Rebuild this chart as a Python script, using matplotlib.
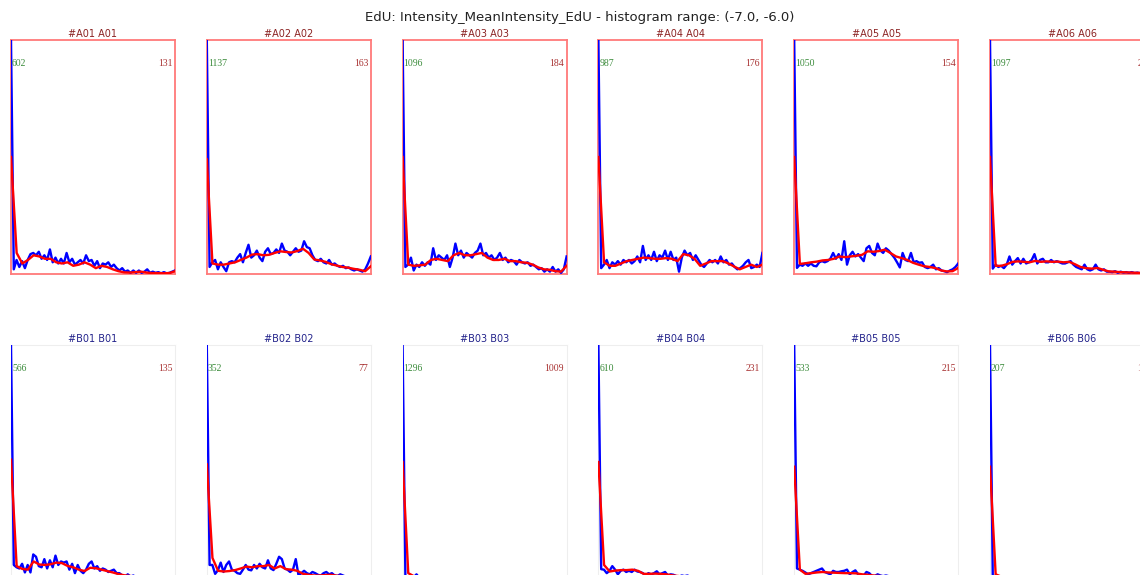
import numpy as np
import matplotlib
matplotlib.use("Agg")
import matplotlib.pyplot as plt

title = "EdU: Intensity_MeanIntensity_EdU - histogram range: (-7.0, -6.0)"

row_a_wells = ["A01", "A02", "A03", "A04", "A05", "A06"]
row_b_wells = ["B01", "B02", "B03", "B04", "B05", "B06"]

# numbers printed in each panel (left: green, right: dark red)
row_a_left = [602, 1137, 1096, 987, 1050, 1097]
row_a_right = [131, 163, 184, 176, 154, 212]
row_b_left = [566, 352, 1296, 610, 533, 207]
row_b_right = [135, 77, 1009, 231, 215, 148]

# histogram (blue) and smoothed (red) curves, in percent of the panel's peak bin
a01_blue = [100, 2, 6, 3, 5.5, 2.5, 6, 8.5, 9, 8,
            9.5, 6.5, 8, 6, 10.5, 5, 7, 4.5, 6.5, 4.5,
            9, 5, 6.5, 4, 5, 6, 4.5, 8, 5.5, 6,
            3.5, 5.5, 2.5, 4.5, 4, 5, 3, 4, 2.5, 1.5,
            2.5, 1, 1.5, 0.5, 1.5, 0.5, 1.5, 0.5, 1, 2,
            0.5, 1, 0.5, 0.8, 0.3, 0.8, 0.3, 0.5, 1, 1.5]
a01_red = [50, 9, 4.5, 6, 8, 7.5, 6.5, 6.5, 5, 4.5,
           5, 3.5, 4, 5, 4, 2.5, 3.5, 3, 2, 1.2,
           0.7, 0.6, 0.8, 1, 0.6, 0.4, 0.4, 0.3, 0.4, 1.2]

a02_blue = [100, 3, 5, 6, 2, 5, 3, 1.2, 5, 5.5,
            5, 7, 8.5, 5, 9, 12.5, 7, 8, 10, 7,
            5.5, 9.5, 11, 8.5, 9, 10.5, 9, 13, 10, 9.5,
            8, 9.5, 11, 9.5, 10, 14, 11.5, 11, 8, 6,
            5.5, 6.5, 5, 4.5, 6, 4, 4.5, 3.5, 3, 3.5,
            2.5, 2.8, 2, 1.5, 2, 1.5, 1, 2, 4.5, 7.5]
a02_red = [49, 4.5, 4, 4, 4.5, 5, 6, 7, 8.3, 8.5,
           8, 8.2, 9, 9.7, 9.4, 9.2, 9.8, 10.8, 9, 6.2,
           5.8, 5.2, 4.2, 3.6, 3, 2.7, 2.2, 1.8, 1.2, 3.3]

a03_blue = [100, 3, 4, 7, 1.5, 4, 3, 5, 3.5, 5,
            4, 11, 6, 8, 7, 6, 8, 3, 7, 13,
            8, 10, 7, 9, 8, 7, 9, 10, 13, 8,
            9, 7, 8, 6, 7, 9, 6, 7, 5, 6,
            5.5, 4, 6, 5, 4.5, 5, 3.5, 4, 3, 2,
            2.5, 1, 2, 1, 3, 1, 2, 0.5, 2, 7.5]
a03_red = [50, 4, 3.5, 3.7, 4, 6, 6.5, 6, 5.5, 8,
           9, 8, 8, 8.5, 9, 7, 6, 6, 6.5, 5.5,
           5.5, 5, 4.8, 4, 2.8, 2, 1.8, 1.2, 1, 3.5]

a04_blue = [100, 2.5, 4, 6, 2.5, 5, 4, 5.5, 4, 6,
            5, 6, 4.5, 5.5, 7.5, 5, 12, 6, 8, 6,
            9.5, 5.5, 8, 7, 10, 6, 9.5, 6, 7, 1,
            7, 10, 8, 9, 6, 8, 6, 4, 3, 4.5,
            6, 5, 6, 4.5, 7.5, 5, 6, 4, 4.5, 3,
            2, 2.5, 3.5, 5, 6, 2.5, 3, 4, 3, 9]
a04_red = [50, 5, 3.5, 3.5, 4.5, 5.5, 6, 6.5, 7, 6.8,
           6.5, 6.5, 6.8, 6.5, 5.5, 8.5, 8, 6.5, 3.5, 4.5,
           5.5, 5.5, 5.5, 4.5, 3.2, 2, 3, 4, 3, 4]

a05_blue = [100, 2.6, 4, 3.5, 4.5, 3.5, 4.5, 3.5, 3.3, 5,
            5.5, 5, 5.5, 6.5, 9, 6.5, 8.5, 6, 14, 4,
            8, 9.5, 7.5, 8.5, 7, 5.5, 11, 12, 9, 8,
            13, 10, 9, 11, 10, 8.5, 7, 5, 2.8, 9,
            6, 5.5, 9, 5, 5.5, 4.8, 5, 3, 2.5, 3,
            4, 2, 2.5, 1.5, 1.2, 0.8, 1.5, 2, 3, 4.5]
a05_red = [50, 4.3, 4.6, 5, 5.3, 5.8, 6, 6.5, 7.5, 7.2,
           7.5, 7.8, 8.2, 9.7, 9.5, 9.8, 10.4, 9, 7.5, 6.8,
           6, 4.8, 4, 3.3, 3, 2.5, 1.5, 1.1, 1.2, 2.6]

a06_blue = [100, 2.3, 4, 3, 3.5, 2.5, 4, 7.5, 4, 5.5,
            6.8, 4.5, 6.5, 4.5, 5, 6, 8.5, 4.5, 6, 6.5,
            5, 5, 6, 5, 5.5, 5, 4.5, 4.5, 5, 5.5,
            4, 3, 2.5, 2, 4, 2, 1.5, 2, 4, 2,
            1.5, 2, 1, 1, 0.8, 1.2, 0.5, 1, 0.6, 0.8,
            0.5, 0.8, 0.4, 0.6, 0.3, 0.5, 0.3, 0.6, 0.3, 0.5]
a06_red = [50, 3.5, 3.5, 4.2, 5.2, 5.4, 5.2, 5, 5.6, 5.2,
           5.4, 5.2, 5.3, 5, 5.2, 4.2, 3, 2.5, 2.3, 2.6,
           1.8, 1.1, 1, 0.8, 0.7, 0.6, 0.5, 0.5, 0.5, 0.5]

b01_blue = [100, 6, 5, 4.5, 6.5, 2.8, 6, 2.8, 10.5, 9.5,
            5.5, 5, 8.5, 4.5, 8, 5, 10, 6, 7.5, 7,
            7.5, 4, 6.5, 2.5, 6, 3.5, 2.5, 4, 6.5, 7.5,
            4.5, 5.5, 3.5, 4.5, 4, 3, 3.5, 4, 2.5, 2.5,
            1.5, 1, 2, 1, 1.5, 0.8, 1, 0.5, 1, 0.5,
            0.8, 0.5, 0.6, 0.4, 0.5, 0.3, 0.5, 0.3, 0.4, 0.6]
b01_red = [51, 5.5, 4.3, 4, 7.5, 6.2, 6, 6.3, 7, 6.8,
           5.6, 5, 4, 3.4, 4.8, 4.6, 4, 3.4, 2.8, 2.1,
           1.6, 1.3, 1.1, 1, 0.9, 0.8, 0.7, 0.6, 0.5, 0.5]

b02_blue = [100, 6, 6, 2.2, 3.7, 7, 3, 6, 7.5, 4,
            3.5, 2.5, 2.2, 4, 6, 4, 3.7, 6, 4.5, 6.5,
            5, 4.5, 8, 4.5, 3.8, 6.5, 9.5, 8.5, 4.5, 4,
            3, 4, 8.5, 1.5, 2.5, 3.5, 2.5, 2, 3, 2.5,
            1.8, 1.4, 2.5, 3, 2, 2.5, 1.5, 1.3, 2, 1.5,
            1, 0.8, 1.2, 0.6, 0.8, 0.5, 0.7, 0.4, 0.6, 0.8]
b02_red = [49, 9, 3.5, 3.2, 3.4, 3.8, 4.5, 5.3, 5, 5.5,
           5.5, 6, 4.5, 5.5, 4.2, 4, 3.5, 2.2, 1.8, 1.5,
           1.5, 1.7, 1.8, 1.4, 1.2, 0.9, 0.8, 0.7, 0.6, 0.6]

b03_blue = [100, 1.2, 0.6, 1, 0.8, 2, 0.5, 0.8, 0.4, 0.6,
            0.5, 0.7, 0.3, 0.5, 0.6, 0.4, 0.3, 0.5, 0.4, 0.3,
            0.5, 0.3, 0.4, 0.2, 0.4, 0.3, 0.2, 0.4, 0.3, 0.2,
            0.3, 0.2, 0.4, 0.2, 0.3, 0.2, 0.3, 0.1, 0.3, 0.2,
            0.2, 0.3, 0.1, 0.2, 0.3, 0.1, 0.2, 0.1, 0.2, 0.1,
            0.2, 0.1, 0.2, 0.1, 0.1, 0.2, 0.1, 0.1, 0.2, 0.3]
b03_red = [50, 2.5, 1.2, 0.9, 0.8, 0.7, 0.6, 0.5, 0.5, 0.4,
           0.4, 0.4, 0.3, 0.3, 0.3, 0.3, 0.3, 0.2, 0.2, 0.2,
           0.2, 0.2, 0.2, 0.2, 0.2, 0.2, 0.2, 0.2, 0.2, 0.2]

b04_blue = [100, 4.2, 4, 2.5, 3.5, 5.5, 4, 2, 3.5, 4,
            3, 3.5, 3, 4, 3.2, 3, 2.5, 1.5, 2.5, 2,
            2.5, 3.3, 2, 2.5, 3, 1.5, 2, 1.8, 1.2, 1,
            1.5, 1.2, 1.5, 1, 0.8, 1.2, 0.7, 1, 0.6, 0.8,
            0.5, 0.9, 0.6, 0.7, 0.5, 0.8, 0.4, 0.6, 0.5, 0.7,
            0.4, 0.5, 0.3, 0.6, 0.4, 0.5, 0.3, 0.4, 0.6, 1.2]
b04_red = [50, 6, 3.2, 3.6, 3.8, 3.8, 4, 3.5, 2.2, 2.2,
           2.3, 2.2, 2, 1.6, 1.3, 1.1, 1, 0.9, 0.9, 0.8,
           0.8, 0.7, 0.7, 0.6, 0.6, 0.5, 0.5, 0.5, 0.5, 0.6]

b05_blue = [100, 4.5, 4, 3.5, 2.8, 2, 2.5, 3, 3.5, 4,
            4.5, 3, 2.5, 2, 3.5, 3, 3, 3.3, 3.5, 4,
            2, 3, 3.7, 2, 1.8, 1.5, 3, 2.5, 1.3, 1.3,
            2, 1.5, 1.2, 1.5, 1.2, 0.9, 1.1, 0.8, 1, 0.7,
            0.9, 0.6, 0.8, 0.5, 0.7, 0.6, 0.5, 0.7, 0.4, 0.6,
            0.5, 0.4, 0.6, 0.3, 0.5, 0.4, 0.3, 0.5, 0.4, 0.8]
b05_red = [48, 4, 2.2, 2.5, 2.8, 3, 2.8, 2.7, 2.6, 2.5,
           2.5, 2.4, 2, 1.8, 1.5, 1.3, 1.2, 1.1, 1, 0.9,
           0.8, 0.8, 0.7, 0.6, 0.6, 0.5, 0.5, 0.5, 0.5, 0.5]

b06_blue = [100, 0.8, 1.5, 0.6, 1.2, 0.5, 0.8, 0.4, 0.6, 0.3,
            0.5, 0.4, 0.3, 0.5, 0.2, 0.4, 0.3, 0.2, 0.4, 0.2,
            0.3, 0.2, 0.3, 0.1, 0.3, 0.2, 0.2, 0.1, 0.2, 0.3,
            0.1, 0.2, 0.1, 0.2, 0.2, 0.1, 0.2, 0.1, 0.1, 0.2,
            0.1, 0.1, 0.2, 0.1, 0.1, 0.2, 0.1, 0.1, 0.1, 0.2,
            0.1, 0.1, 0.1, 0.2, 0.1, 0.1, 0.1, 0.1, 0.1, 0.2]
b06_red = [48, 2, 1, 0.8, 0.7, 0.6, 0.5, 0.4, 0.4, 0.3,
           0.3, 0.3, 0.2, 0.2, 0.2, 0.2, 0.2, 0.2, 0.2, 0.2,
           0.2, 0.2, 0.2, 0.2, 0.2, 0.2, 0.2, 0.2, 0.2, 0.2]

row_a_blue = [a01_blue, a02_blue, a03_blue, a04_blue, a05_blue, a06_blue]
row_a_red = [a01_red, a02_red, a03_red, a04_red, a05_red, a06_red]
row_b_blue = [b01_blue, b02_blue, b03_blue, b04_blue, b05_blue, b06_blue]
row_b_red = [b01_red, b02_red, b03_red, b04_red, b05_red, b06_red]

W, H = 1140, 575
fig = plt.figure(figsize=(W / 100, H / 100), dpi=100)
fig.patch.set_facecolor("white")

fig.text(580 / W, 1 - 18 / H, title, ha="center", va="center",
         fontsize=9.5, color="#222222", family="DejaVu Sans")

pitch = 195.8
panel_w, panel_h = 164, 234
rows = [
    dict(wells=row_a_wells, left=row_a_left, right=row_a_right, blue=row_a_blue,
         red=row_a_red, top=40, title_color="#8b2323", spine="#ff7a7a", spine_lw=1.3),
    dict(wells=row_b_wells, left=row_b_left, right=row_b_right, blue=row_b_blue,
         red=row_b_red, top=345, title_color="#23238b", spine="#eeeeee", spine_lw=0.8),
]

for row in rows:
    for c, well in enumerate(row["wells"]):
        lx = 11 + pitch * c
        ax = fig.add_axes([lx / W, 1 - (row["top"] + panel_h) / H, panel_w / W, panel_h / H])
        blue = row["blue"][c]
        red = row["red"][c]
        ax.plot(np.linspace(0, 1, len(blue)), blue, color="#0000ff", lw=1.7, zorder=3)
        ax.plot(np.linspace(0, 1, len(red)), red, color="#ff0000", lw=1.7, zorder=4)
        ax.set_xlim(0, 1)
        ax.set_ylim(0, 100)
        ax.set_xticks([])
        ax.set_yticks([])
        for sp in ax.spines.values():
            sp.set_color(row["spine"])
            sp.set_linewidth(row["spine_lw"])
        ax.set_title(f"#{well} {well}", fontsize=7, color=row["title_color"], pad=2.5,
                     family="DejaVu Sans")
        ax.text(0.006, 0.9, str(row["left"][c]), transform=ax.transAxes, ha="left",
                va="center", fontsize=7, color="#3c8c3c", family="Liberation Serif",
                zorder=5)
        ax.text(0.985, 0.9, str(row["right"][c]), transform=ax.transAxes, ha="right",
                va="center", fontsize=7, color="#a83232", family="Liberation Serif",
                zorder=5)

fig.savefig("out.png", dpi=100, facecolor="white")
